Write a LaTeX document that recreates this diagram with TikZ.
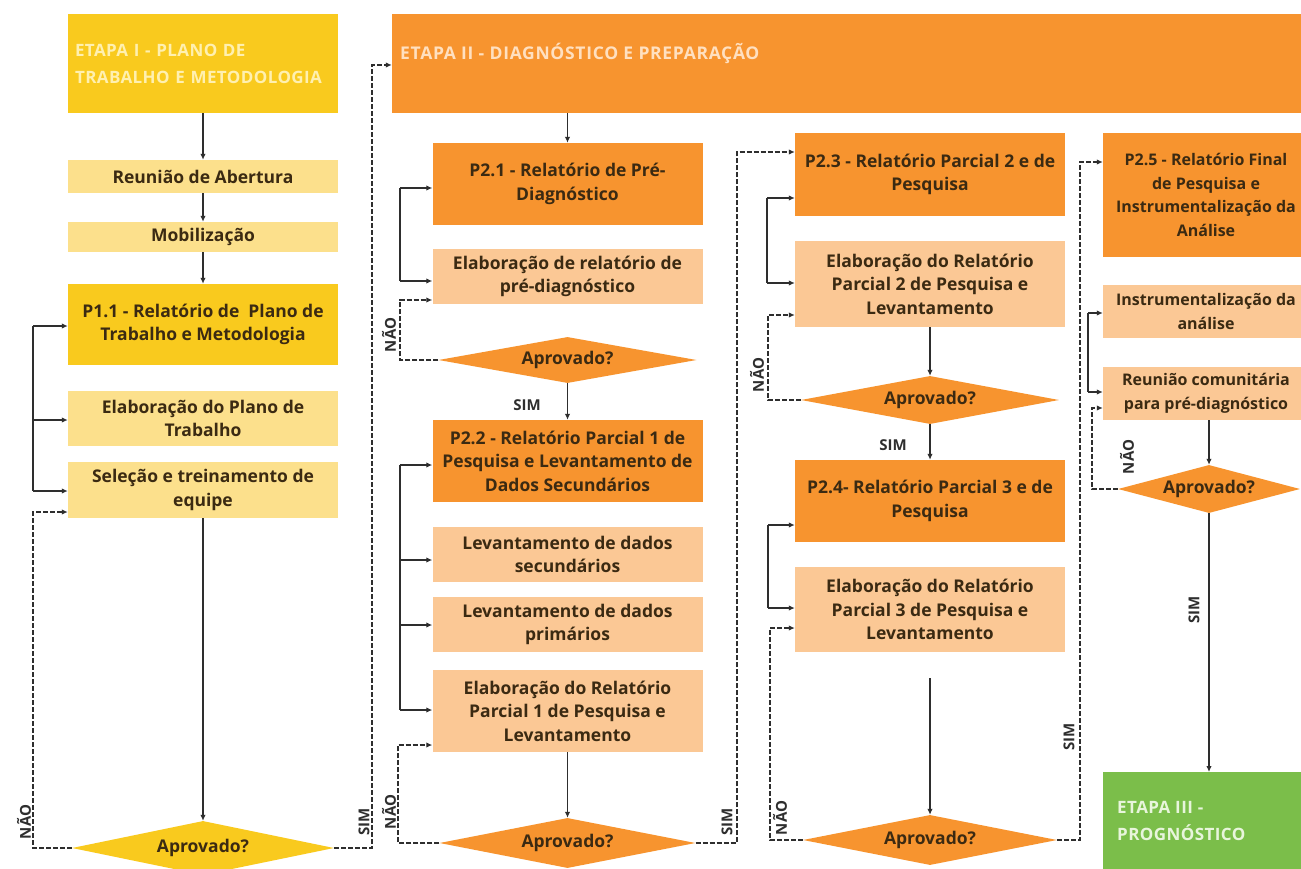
\documentclass[tikz,border=0pt]{standalone}
\usepackage{fontspec}
\setmainfont{Open Sans}
\usetikzlibrary{shapes.geometric,arrows.meta,calc}
\definecolor{yel}{HTML}{F9CA1E}
\definecolor{lyel}{HTML}{FCE08C}
\definecolor{org}{HTML}{F7942F}
\definecolor{lorg}{HTML}{FBC895}
\definecolor{grn}{HTML}{7BBE4A}
\definecolor{txt}{HTML}{3B2A12}
\definecolor{hy}{HTML}{FFF0B0}
\definecolor{ho}{HTML}{FFE0C0}
\definecolor{hg}{HTML}{E8F5DC}
\newcommand\bxf{\fontsize{17.5}{23.5}\selectfont\bfseries}
\newcommand\bxs{\fontsize{16}{23.5}\selectfont\bfseries}
\newcommand\hdf{\fontsize{17}{27}\selectfont\bfseries\addfontfeature{LetterSpace=2.5}}
\newcommand\hdg{\fontsize{17.5}{27}\selectfont\bfseries\addfontfeature{LetterSpace=4}}
\newcommand\lbf{\fontsize{15}{18}\selectfont\bfseries}
\begin{document}
\begin{tikzpicture}[x=1pt,y=-1pt,
 box/.style={rectangle, inner sep=3pt, align=center, text=txt, font=\bxf, minimum width=270pt},
 dia/.style={diamond, aspect=5, inner sep=0pt, text=txt, font=\bxf},
 hdr/.style={inner sep=0pt, align=left, font=\hdg, anchor=west},
 arr/.style={-{Latex[length=6pt,width=5.5pt]}, line width=1.7pt, draw=black!82},
 ln/.style={line width=1.7pt, draw=black!82},
 dsh/.style={arr, dash pattern=on 5pt off 2pt},
 lbl/.style={font=\lbf, text=black!82, inner sep=0pt},
 vl/.style={lbl, rotate=90}]
\useasboundingbox (0,0) rectangle (1301,869);
\clip (0,0) rectangle (1301,869);
\fill[white] (0,0) rectangle (1301,869);

% ---------- Column 1 ----------
\node[box, fill=yel, minimum height=99pt, text width=256pt, inner sep=7pt, align=left, font=\hdf, text=hy] (s1) at (203,63.5) {ETAPA I - PLANO DE\\TRABALHO E METODOLOGIA};
\node[box, fill=lyel, minimum height=33pt] (r1) at (203,176.5) {Reunião de Abertura};
\node[box, fill=lyel, minimum height=30pt] (mob) at (203,237) {Mobilização};
\node[box, fill=yel, minimum height=81pt] (p11) at (203,324.5) {P1.1 - Relatório de \ Plano de\\Trabalho e Metodologia};
\node[box, fill=lyel, minimum height=55pt] (ep) at (203,418.5) {Elaboração do Plano de\\Trabalho};
\node[box, fill=lyel, minimum height=56pt] (sel) at (203,490) {Seleção e treinamento de\\equipe};
\node[dia, fill=yel, minimum width=262pt, minimum height=54pt] (d1) at (203,848) {Aprovado?};

% ---------- Stage II header ----------
\node[rectangle, fill=org, minimum width=930pt, minimum height=99pt, inner sep=0pt] (s2) at (857,63.5) {};
\node[hdr, text=ho] (s2t) at (400,53) {ETAPA II - DIAGNÓSTICO E PREPARAÇÃO};

% ---------- Column 2 ----------
\node[box, fill=org, minimum height=82pt] (p21) at (567.5,184) {P2.1 - Relatório de Pré-\\Diagnóstico};
\node[box, fill=lorg, minimum height=55pt] (e21) at (567.5,276.5) {Elaboração de relatório de\\pré-diagnóstico};
\node[dia, fill=org, minimum width=258pt, minimum height=46pt] (d21) at (567.5,360) {Aprovado?};
\node[box, fill=org, minimum height=82pt] (p22) at (567.5,461) {P2.2 - Relatório Parcial 1 de\\Pesquisa e Levantamento de\\Dados Secundários};
\node[box, fill=lorg, minimum height=55pt] (l1) at (567.5,554.5) {Levantamento de dados\\secundários};
\node[box, fill=lorg, minimum height=55pt] (l2) at (567.5,624.5) {Levantamento de dados\\primários};
\node[box, fill=lorg, minimum height=82pt] (e22) at (567.5,711) {Elaboração do Relatório\\Parcial 1 de Pesquisa e\\Levantamento};
\node[dia, fill=org, minimum width=256pt, minimum height=50pt] (d22) at (567.5,843) {Aprovado?};

% ---------- Column 3 ----------
\node[box, fill=org, minimum height=83pt] (p23) at (930,174.5) {P2.3 - Relatório Parcial 2 e de\\Pesquisa};
\node[box, fill=lorg, minimum height=86pt] (e23) at (930,284) {Elaboração do Relatório\\Parcial 2 de Pesquisa e\\Levantamento};
\node[dia, fill=org, minimum width=258pt, minimum height=48pt] (d23) at (930,400) {Aprovado?};
\node[box, fill=org, minimum height=82pt] (p24) at (930,501) {P2.4- Relatório Parcial 3 e de\\Pesquisa};
\node[box, fill=lorg, minimum height=85pt] (e24) at (930,609.5) {Elaboração do Relatório\\Parcial 3 de Pesquisa e\\Levantamento};
\node[dia, fill=org, minimum width=254pt, minimum height=50pt] (d24) at (930,840) {Aprovado?};

% ---------- Column 4 ----------
\node[box, fill=org, minimum width=206pt, minimum height=124pt, font=\bxs] (p25) at (1206,195) {P2.5 - Relatório Final\\de Pesquisa e\\Instrumentalização da\\Análise};
\node[box, fill=lorg, minimum width=206pt, minimum height=53pt, font=\bxs] (i25) at (1206,311.5) {Instrumentalização da\\análise};
\node[box, fill=lorg, minimum width=206pt, minimum height=53pt, font=\bxs] (rc) at (1206,393.5) {Reunião comunitária\\para pré-diagnóstico};
\node[dia, fill=org, minimum width=182pt, minimum height=48pt] (d25) at (1209,489) {Aprovado?};
\node[rectangle, fill=grn, minimum width=220pt, minimum height=110pt, inner sep=0pt, anchor=north west] (s3) at (1103,772) {};
\node[hdr, text=hg, font=\hdf] (s3t) at (1117,821) {ETAPA III -\\PROGNÓSTICO};

% ---------- solid vertical flow ----------
\draw[arr] (s1) -- (r1);
\draw[arr] (r1) -- (mob);
\draw[arr] (mob) -- (p11);
\draw[arr] (sel) -- (d1);
\draw[arr] (p21.north |- s2.south) -- (p21.north);
\draw[arr] (d21) -- (p22);
\draw[arr] (e22) -- (d22);
\draw[arr] (e23) -- (d23);
\draw[arr] (d23) -- (p24);
\coordinate (g24) at ($(e24.south)+(0,26)$);
\draw[arr] (g24) -- (d24.north);
\draw[arr] (rc.south -| d25.north) -- (d25.north);
\draw[arr] (d25.south) -- (d25.south |- s3.north);

% ---------- brackets ----------
\coordinate (b1a) at (33,326); \coordinate (b1b) at (33,420); \coordinate (b1c) at (33,491);
\draw[ln] (b1a) -- (b1c);
\draw[arr] (b1a) -- (b1a -| p11.west);
\draw[arr] (b1b) -- (b1b -| ep.west);
\draw[arr] (b1c) -- (b1c -| sel.west);

\coordinate (b2a) at (400,188); \coordinate (b2b) at (400,281);
\draw[ln] (b2a) -- (b2b);
\draw[arr] (b2a) -- (b2a -| p21.west);
\draw[arr] (b2b) -- (b2b -| e21.west);

\coordinate (b3a) at (400,465); \coordinate (b3b) at (400,560); \coordinate (b3c) at (400,625); \coordinate (b3d) at (400,710);
\draw[ln] (b3a) -- (b3d);
\draw[arr] (b3a) -- (b3a -| p22.west);
\draw[arr] (b3b) -- (b3b -| l1.west);
\draw[arr] (b3c) -- (b3c -| l2.west);
\draw[arr] (b3d) -- (b3d -| e22.west);

\coordinate (b4a) at (767,198); \coordinate (b4b) at (767,283);
\draw[ln] (b4a) -- (b4b);
\draw[arr] (b4a) -- (b4a -| p23.west);
\draw[arr] (b4b) -- (b4b -| e23.west);

\coordinate (b5a) at (768,525); \coordinate (b5b) at (768,608);
\draw[ln] (b5a) -- (b5b);
\draw[arr] (b5a) -- (b5a -| p24.west);
\draw[arr] (b5b) -- (b5b -| e24.west);

\coordinate (b6a) at (1088,313); \coordinate (b6b) at (1088,392);
\draw[ln] (b6a) -- (b6b);
\draw[arr] (b6a) -- (b6a -| i25.west);
\draw[arr] (b6b) -- (b6b -| rc.west);

% ---------- NÃO loops ----------
\coordinate (n1) at (33,512);
\draw[dsh] (d1.west) -| (n1) -- (n1 -| sel.west);
\coordinate (n2) at (400,300);
\draw[dsh] (d21.west) -| (n2) -- (n2 -| e21.west);
\coordinate (n3) at (398,745);
\draw[dsh] (d22.west) -| (n3) -- (n3 -| e22.west);
\coordinate (n4) at (768,315);
\draw[dsh] (d23.west) -| (n4) -- (n4 -| e23.west);
\coordinate (n5) at (770,628);
\draw[dsh] (d24.west) -| (n5) -- (n5 -| e24.west);
\coordinate (n6) at (1092,408);
\draw[dsh] (d25.west) -| (n6) -- (n6 -| rc.west);

% ---------- SIM outer links ----------
\coordinate (o1) at (372,65);
\draw[dsh] (d1.east) -| (o1) -- (o1 -| s2.west);
\coordinate (o2) at (737,152);
\draw[dsh] (d22.east) -| (o2) -- (o2 -| p23.west);
\coordinate (o3) at (1080,162);
\draw[dsh] (d24.east) -| (o3) -- (o3 -| p25.west);

% ---------- labels ----------
\node[vl] (ln1) at (24,822) {NÃO};
\node[vl] (ls1) at (364,822) {SIM};
\node[vl] (ln2) at (389,335) {NÃO};
\node[vl] (ln3) at (389,812) {NÃO};
\node[lbl] (ls2) at (527,405) {SIM};
\node[vl] (ls3) at (727,822) {SIM};
\node[vl] (ln4) at (757,375) {NÃO};
\node[lbl] (ls4) at (893,445) {SIM};
\node[vl] (ln5) at (780,818) {NÃO};
\node[vl] (ls5) at (1069,737) {SIM};
\node[vl] (ln6) at (1127,457) {NÃO};
\node[vl] (ls6) at (1194,610) {SIM};
\end{tikzpicture}
\end{document}
